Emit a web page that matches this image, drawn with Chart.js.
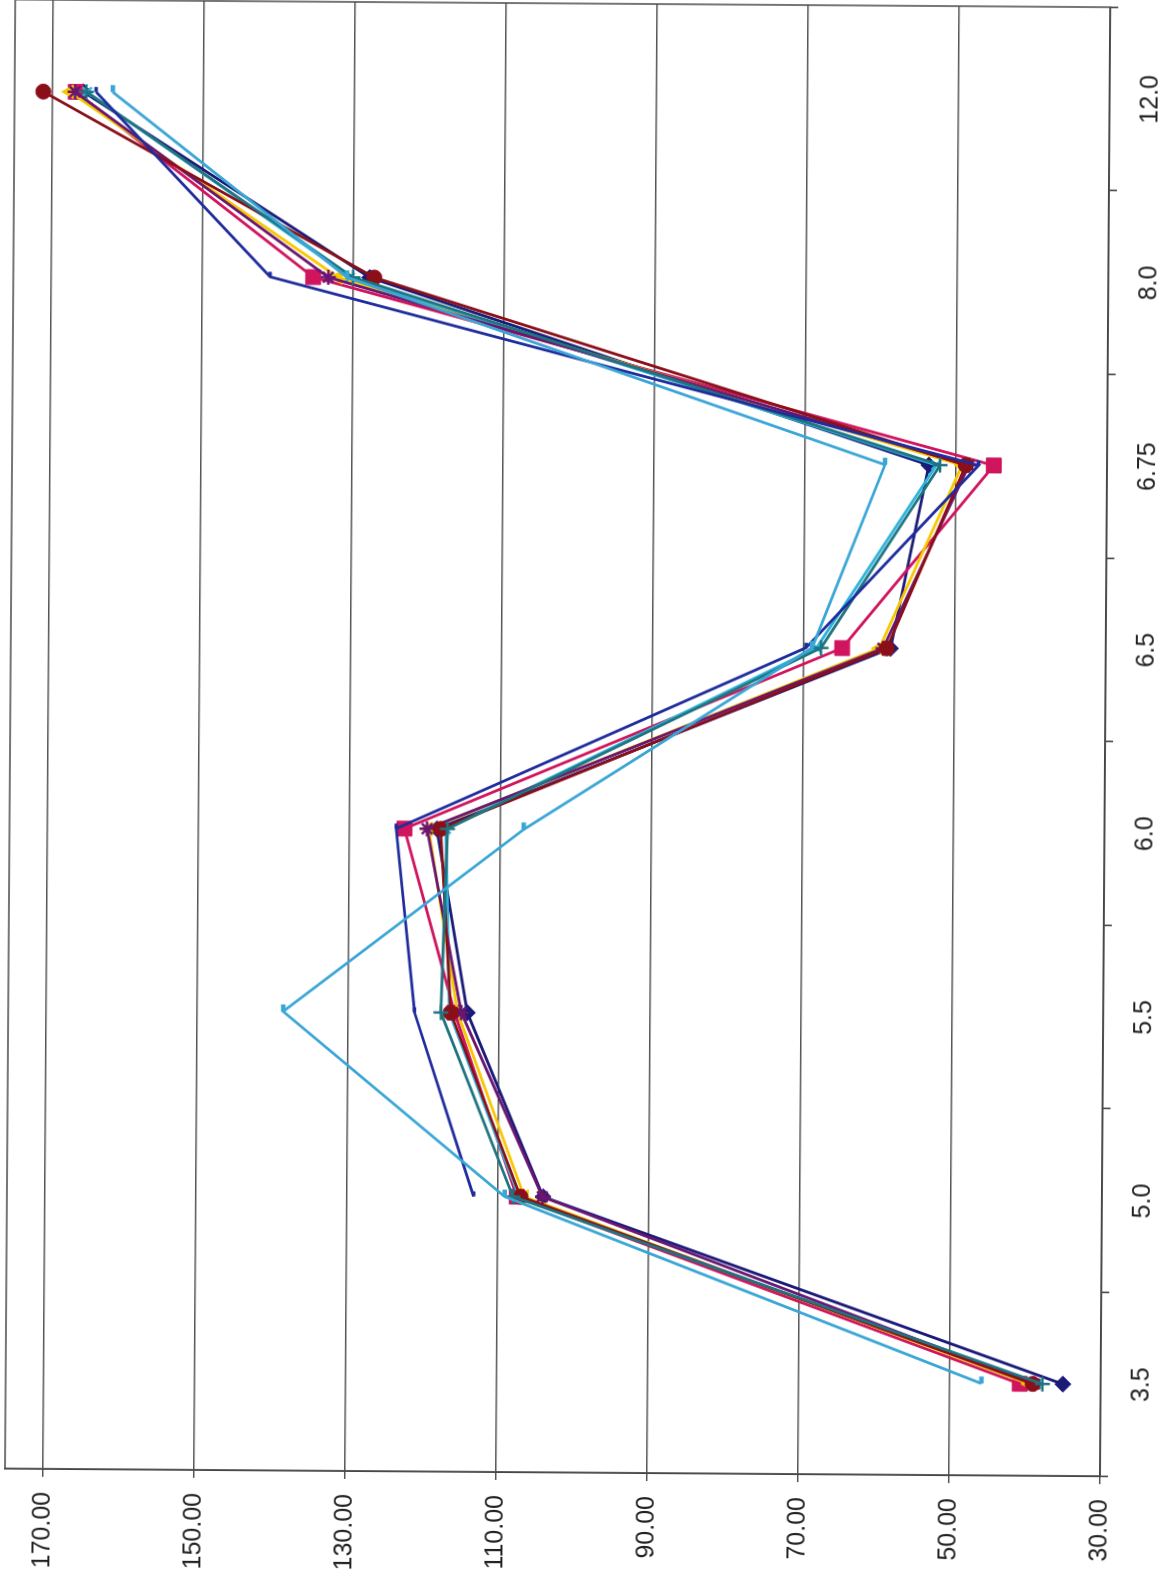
<!DOCTYPE html>
<html lang="en">
<head>
    <meta charset="UTF-8">
    <title>Rotated line chart</title>
    <style>
        html, body {
            margin: 0;
            padding: 0;
            background: #ffffff;
            overflow: hidden;
        }

        /* the scan sits a little crooked on the page */
        #page {
            position: absolute;
            left: 0;
            top: 0;
            width: 1167px;
            height: 1585px;
            transform-origin: 500px 1472px;
            transform: rotate(0.4deg);
        }

        /* the chart is drawn upright, then turned a quarter to the left like the scan */
        #wrap {
            position: absolute;
            left: 0;
            top: 0;
            width: 1585px;
            height: 1167px;
            transform-origin: 0 0;
            transform: translate(0, 1585px) rotate(-90deg);
        }
    </style>
    <script src="https://cdn.jsdelivr.net/npm/chart.js"></script>
</head>
<body>
    <div id="page">
        <div id="wrap"><canvas id="chart" width="1585" height="1167"></canvas></div>
    </div>

    <script>
        const categories = ['3.5', '5.0', '5.5', '6.0', '6.5', '6.75', '8.0', '12.0'];
        const valueTicks = [30, 50, 70, 90, 110, 130, 150, 170];

        // values
        const navyDiamond   = [35.0, 104.0, 114.2, 118.4, 58.5, 53.6, 127.8, 165.9];
        const magentaSquare = [40.7, 107.5, 115.9, 122.7, 64.9, 45.0, 135.3, 166.9];
        const yellowTri     = [39.5, 106.5, 115.5, 119.5, 60.0, 49.2, 132.0, 167.7];
        const cyanX         = [38.5, 107.2, 116.6, 117.2, 68.3, 52.6, 130.4, 165.4];
        const purpleStar    = [38.8, 104.1, 115.0, 119.7, 59.5, 48.3, 133.3, 167.0];
        const darkRedCircle = [39.0, 107.0, 116.4, 117.9, 59.0, 48.7, 127.2, 171.2];
        const tealPlus      = [37.7, 108.0, 117.7, 117.0, 67.7, 52.1, 130.0, 165.5];
        const blueDash      = [null, 113.2, 121.2, 123.8, 69.7, 47.0, 141.0, 164.2];
        const skyBar        = [45.8, 109.1, 138.6, 106.9, 68.9, 59.4, 130.8, 162.0];

        const font = { family: '"Liberation Sans", Arial, sans-serif', size: 25 };

        function series(label, data, color, style, radius, pointWidth) {
            return {
                label: label,
                data: data,
                borderColor: color,
                backgroundColor: color,
                pointBackgroundColor: color,
                pointBorderColor: color,
                pointStyle: style,
                pointRadius: radius,
                pointBorderWidth: pointWidth,
                borderWidth: 2.8,
                tension: 0,
                fill: false
            };
        }

        const datasets = [
            series('S1', navyDiamond, '#1a1a78', 'rectRot', 8, 1),
            series('S2', magentaSquare, '#d0145e', 'rect', 10.5, 1),
            series('S3', yellowTri, '#f6c800', 'triangle', 8, 1),
            series('S4', cyanX, '#2cb4dc', 'crossRot', 6.5, 2.5),
            series('S5', purpleStar, '#6a1670', 'star', 7.5, 2.5),
            series('S6', darkRedCircle, '#8a0f18', 'circle', 7.5, 1),
            series('S7', tealPlus, '#1f7480', 'cross', 7.5, 2.5),
            series('S8', blueDash, '#1f2c9c', 'dash', 5, 3.5),
            series('S9', skyBar, '#3aa6d6', 'dash', 7, 4.5)
        ];
        // later series on top, as in the scan
        datasets.forEach((d, i) => { d.order = datasets.length - i; });

        const plotBorder = {
            id: 'plotBorder',
            beforeDatasetsDraw(chart) {
                const { ctx, chartArea: a } = chart;
                ctx.save();
                ctx.strokeStyle = '#4a4a4a';
                ctx.lineWidth = 1.5;
                ctx.strokeRect(a.left, a.top, a.right - a.left, a.bottom - a.top);
                ctx.restore();
            }
        };

        // keep the plot box where the scan has it, ignore label overhang
        function noPadding(scale) {
            scale.paddingTop = 0;
            scale.paddingBottom = 0;
            scale.paddingLeft = 0;
            scale.paddingRight = 0;
        }

        const ctx = document.getElementById('chart').getContext('2d');
        new Chart(ctx, {
            type: 'line',
            data: { labels: categories, datasets: datasets },
            plugins: [plotBorder],
            options: {
                responsive: false,
                animation: false,
                layout: {
                    autoPadding: false,
                    padding: { top: 5, right: 3, left: 0, bottom: 0 }
                },
                plugins: {
                    legend: { display: false },
                    tooltip: { enabled: false }
                },
                scales: {
                    x: {
                        type: 'category',
                        offset: true,
                        grid: {
                            offset: true,
                            drawOnChartArea: false,
                            tickLength: 8,
                            color: '#3a3a3a',
                            lineWidth: 1.5
                        },
                        border: { color: '#3a3a3a', width: 1.5 },
                        ticks: {
                            font: font,
                            color: '#222',
                            padding: 18,
                            maxRotation: 0,
                            autoSkip: false
                        },
                        afterFit: (scale) => { scale.height = 67; noPadding(scale); }
                    },
                    y: {
                        min: 30,
                        max: 175,
                        afterBuildTicks: (scale) => {
                            scale.ticks = valueTicks.map(v => ({ value: v }));
                        },
                        grid: {
                            color: '#555',
                            lineWidth: 1.5,
                            tickLength: 8
                        },
                        border: { color: '#3a3a3a', width: 1.5 },
                        ticks: {
                            font: font,
                            color: '#222',
                            padding: 15,
                            callback: (v) => Number(v).toFixed(2)
                        },
                        afterFit: (scale) => { scale.width = 113; noPadding(scale); }
                    }
                }
            }
        });
    </script>
</body>
</html>
